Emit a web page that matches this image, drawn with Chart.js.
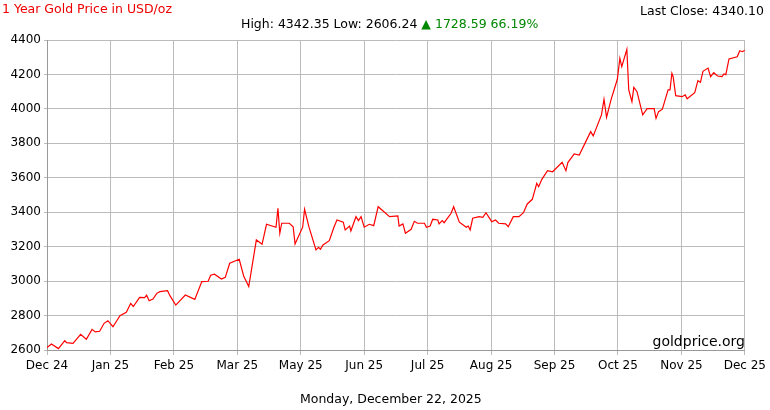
<!DOCTYPE html>
<html><head><meta charset="utf-8">
<script src="https://cdn.jsdelivr.net/npm/chart.js@4"></script>
<style>
body{margin:0;background:#fff;font-family:"DejaVu Sans",Verdana,sans-serif;}
#wrap{position:relative;width:770px;height:410px;}
.t{position:absolute;font-size:12.5px;white-space:nowrap;}
</style></head><body>
<div id="wrap">
<canvas id="c" width="770" height="410"></canvas>
<div class="t" style="left:2px;top:1px;color:#e00;">1 Year Gold Price in USD/oz</div>
<div class="t" style="right:6px;top:3px;color:#000;">Last Close: 4340.10</div>
<div class="t" style="left:241px;top:16px;color:#000;">High: 4342.35 Low: 2606.24 <span style="color:#080">▲ 1728.59 66.19%</span></div>
<div class="t" style="right:25px;top:333px;font-size:14px;color:#000;">goldprice.org</div>
<div class="t" style="left:300px;top:391px;color:#000;">Monday, December 22, 2025</div>
</div>
<script>
const tickLabels=["Dec 24","Jan 25","Feb 25","Mar 25","May 25","Jun 25","Jul 25","Aug 25","Sep 25","Oct 25","Nov 25","Dec 25"];
const months=[0,0.07,0.18,0.28,0.31,0.41,0.53,0.62,0.71,0.76,0.83,0.90,0.96,1.04,1.09,1.15,1.25,1.32,1.36,1.46,1.54,1.57,1.61,1.67,1.73,1.78,1.90,1.94,2.03,2.18,2.33,2.44,2.54,2.58,2.64,2.75,2.81,2.88,3.03,3.10,3.18,3.30,3.39,3.46,3.61,3.64,3.67,3.70,3.82,3.88,3.91,4.03,4.06,4.13,4.24,4.28,4.31,4.35,4.45,4.52,4.57,4.67,4.70,4.77,4.79,4.87,4.91,4.95,5.00,5.08,5.15,5.22,5.40,5.53,5.55,5.61,5.65,5.74,5.79,5.84,5.95,5.98,6.04,6.08,6.16,6.18,6.23,6.26,6.37,6.41,6.50,6.61,6.64,6.67,6.71,6.81,6.87,6.92,7.01,7.07,7.12,7.23,7.27,7.35,7.44,7.51,7.57,7.65,7.72,7.75,7.80,7.89,7.97,8.12,8.18,8.21,8.31,8.39,8.57,8.61,8.74,8.78,8.82,8.89,8.99,9.03,9.06,9.14,9.17,9.22,9.25,9.30,9.39,9.46,9.57,9.60,9.64,9.70,9.79,9.82,9.85,9.87,9.91,10.01,10.06,10.09,10.21,10.26,10.30,10.34,10.42,10.46,10.51,10.57,10.64,10.67,10.70,10.75,10.88,10.92,10.96,11.0];
const prices=[2614,2635,2608,2654,2643,2639,2691,2662,2720,2705,2709,2755,2770,2735,2764,2799,2819,2871,2852,2906,2904,2918,2886,2896,2929,2939,2944,2914,2861,2919,2894,2997,2999,3034,3040,3012,3022,3104,3127,3030,2968,3239,3214,3330,3313,3423,3278,3336,3336,3316,3216,3313,3417,3313,3181,3196,3185,3210,3235,3310,3355,3342,3297,3320,3291,3374,3351,3374,3313,3330,3322,3432,3374,3378,3320,3332,3278,3301,3347,3336,3336,3313,3320,3359,3355,3332,3351,3339,3394,3432,3342,3313,3320,3297,3365,3374,3370,3397,3345,3355,3336,3332,3316,3374,3374,3397,3448,3475,3568,3548,3591,3641,3635,3690,3641,3688,3738,3732,3868,3843,3965,4056,3951,4052,4172,4294,4245,4346,4110,4042,4125,4100,3965,4001,4001,3945,3984,3998,4110,4110,4207,4187,4077,4071,4081,4059,4094,4164,4154,4218,4237,4187,4210,4191,4187,4203,4199,4290,4303,4338,4332,4340];
const pts=months.map((m,i)=>({x:m,y:prices[i]}));
new Chart(document.getElementById('c'),{
 type:'line',
 data:{datasets:[{data:pts,borderColor:'#ff0000',borderWidth:1.2,pointRadius:0,tension:0,fill:false}]},
 options:{responsive:false,animation:false,
  layout:{padding:{top:40,right:24,left:0,bottom:0}},
  plugins:{legend:{display:false},tooltip:{enabled:false}},
  scales:{
   x:{type:'linear',min:0,max:11,
     afterFit:a=>{a.height=60;},
     ticks:{stepSize:1,autoSkip:false,maxRotation:0,color:'#000',font:{family:'DejaVu Sans',size:12},padding:4,
       callback:v=>tickLabels[v]},
     grid:{color:'#bbb',drawTicks:true,tickLength:5},border:{color:'#999'}},
   y:{min:2600,max:4400,
     afterFit:a=>{a.width=47;},
     ticks:{stepSize:200,color:'#000',font:{family:'DejaVu Sans',size:12},padding:3,callback:v=>String(v)},
     grid:{color:'#bbb',tickLength:3},border:{color:'#999'}}
  }}
});
</script></body></html>
